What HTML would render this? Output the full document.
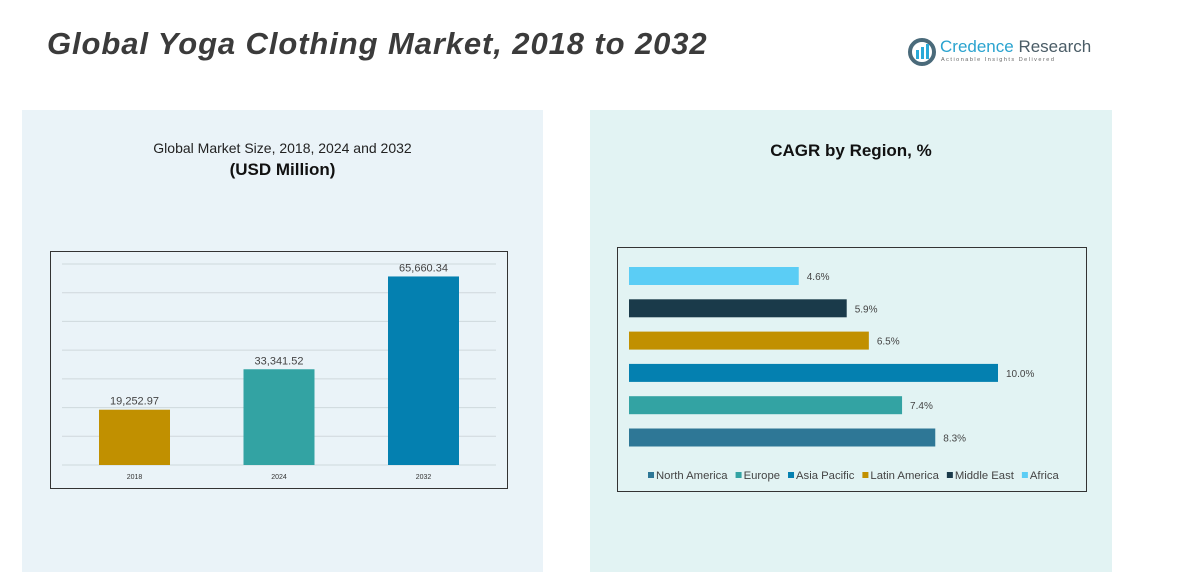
<!DOCTYPE html>
<html><head><meta charset="utf-8"><style>
body{margin:0;width:1186px;height:581px;background:#fff;position:relative;overflow:hidden;font-family:"Liberation Sans",sans-serif}
.abs{position:absolute}
</style></head><body>
<div class="abs" style="left:47px;top:26px;font-size:31px;letter-spacing:0.9px;font-weight:bold;font-style:italic;color:#3b3b3b">Global Yoga Clothing Market, 2018 to 2032</div>
<div class="abs" style="left:908px;top:36px;width:190px;height:34px">
<svg width="30" height="30" style="position:absolute;left:0;top:2px"><circle cx="14" cy="14" r="12" fill="none" stroke="#4a6a7a" stroke-width="4"/><rect x="8" y="12" width="3" height="9" fill="#29a9d8"/><rect x="13" y="9" width="3" height="12" fill="#29a9d8"/><rect x="18" y="6" width="3" height="15" fill="#29a9d8"/></svg>
<div class="abs" style="left:32px;top:1px;font-size:17px;color:#2aa3cf;white-space:nowrap">Credence <span style="color:#4a5c66">Research</span></div>
<div class="abs" style="left:33px;top:21px;font-size:5.5px;letter-spacing:1.5px;color:#666;white-space:nowrap">Actionable Insights Delivered</div>
</div>
<div class="abs" style="left:22px;top:110px;width:521px;height:462px;background:#eaf3f8"></div>
<div class="abs" style="left:590px;top:110px;width:522px;height:462px;background:#e2f3f3"></div>
<div class="abs" style="left:22px;top:140px;width:521px;text-align:center;font-size:14px;color:#222">Global Market Size, 2018, 2024 and 2032</div>
<div class="abs" style="left:22px;top:160px;width:521px;text-align:center;font-size:17px;font-weight:bold;color:#111">(USD Million)</div>
<div class="abs" style="left:590px;top:141px;width:522px;text-align:center;font-size:17px;font-weight:bold;color:#111">CAGR by Region, %</div>
<svg class="abs" style="left:0;top:0" width="1186" height="581" id="svg"></svg>
<script>
const years=["2018","2024","2032"];
const sizes=[19252.97,33341.52,65660.34];
const sizeLabels=["19,252.97","33,341.52","65,660.34"];
const regions=["Africa","Middle East","Latin America","Asia Pacific","Europe","North America"];
const cagr=[4.6,5.9,6.5,10.0,7.4,8.3];
const barColors=["#5bcdf5","#1a3a4a","#c19000","#0480b0","#33a3a3","#2e7796"];
const legendOrder=["North America","Europe","Asia Pacific","Latin America","Middle East","Africa"];
const legendColors=["#2e7796","#33a3a3","#0480b0","#c19000","#1a3a4a","#5bcdf5"];
const yTicks=[0,10000,20000,30000,40000,50000,60000,70000];
const ns="http://www.w3.org/2000/svg",svg=document.getElementById('svg');
function mk(t,a,txt){const e=document.createElementNS(ns,t);for(const k in a)e.setAttribute(k,a[k]);if(txt!=null)e.textContent=txt;svg.appendChild(e);return e;}
let box=mk('rect',{x:50.5,y:251.5,width:457,height:237,fill:'none',stroke:'#333','stroke-width':1});


const y0=465,yMax=70000,ph=201;
const yS=v=>y0-v/yMax*ph;
yTicks.forEach(t=>{const l=mk('line',{x1:62,x2:496,y1:yS(t),y2:yS(t),stroke:'#cfd8dc','stroke-width':1});

});
const bx=i=>99+i*144.5;
years.forEach((y,i)=>{
const r=mk('rect',{x:bx(i),y:yS(sizes[i]),width:71,height:y0-yS(sizes[i]),fill:["#c19000","#33a3a3","#0480b0"][i]});


const v=mk('text',{x:bx(i)+35.5,y:yS(sizes[i])-5,'text-anchor':'middle','font-size':11,fill:'#444'},sizeLabels[i]);


const xl=mk('text',{x:bx(i)+35.5,y:479,'text-anchor':'middle','font-size':7,fill:'#333'},y);


});
let box2=mk('rect',{x:617.5,y:247.5,width:469,height:244,fill:'none',stroke:'#333','stroke-width':1});


const x0=629,xS=v=>x0+v*36.9;
regions.forEach((r,i)=>{
const y=267+i*32.3;
const b=mk('rect',{x:x0,y:y,width:xS(cagr[i])-x0,height:18,fill:barColors[i]});


const t=mk('text',{x:xS(cagr[i])+8,y:y+13,'font-size':10,fill:'#444'},cagr[i].toFixed(1)+'%');


});
let lx=648;
legendOrder.forEach((n,i)=>{
const s=mk('rect',{x:lx,y:472,width:6,height:6,fill:legendColors[i]});


const t=mk('text',{x:lx+8,y:479,'font-size':11.3,fill:'#444'},n);


lx+=8+t.getComputedTextLength()+8;
});
</script>
</body></html>
